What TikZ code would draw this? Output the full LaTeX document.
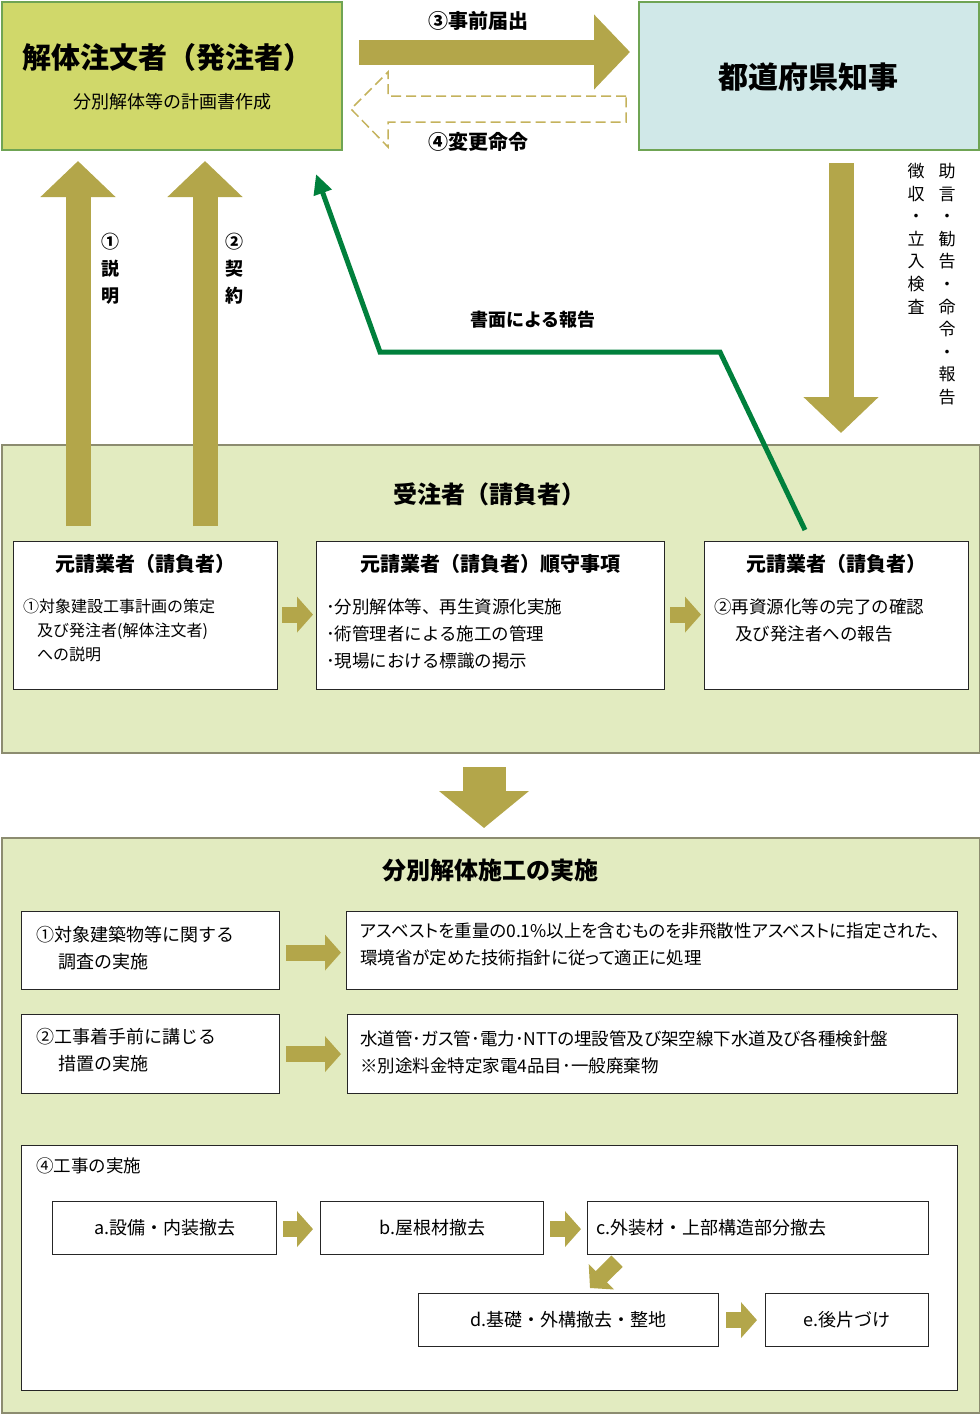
\documentclass[tikz,border=0pt]{standalone}
\usepackage{fontspec}
\setmainfont{Noto Sans CJK JP}
\newfontfamily\proptext{Noto Sans CJK JP}[RawFeature=+palt]
\usetikzlibrary{arrows.meta,positioning,calc}

\definecolor{olivearrow}{HTML}{B3A64A}
\definecolor{dashkhaki}{HTML}{C4B25C}
\definecolor{ordererfill}{HTML}{D0D86A}
\definecolor{govfill}{HTML}{D0E8E8}
\definecolor{boxgreen}{HTML}{6FA454}
\definecolor{panelfill}{HTML}{E2EBC0}
\definecolor{panelline}{HTML}{8C8C70}
\definecolor{reportgreen}{HTML}{00803C}

\begin{document}
\begin{tikzpicture}[x=1pt, y=-1pt,
	topbox/.style={draw=boxgreen, line width=2pt, minimum width=340pt, minimum height=148pt, anchor=north west, inner sep=0pt},
	panel/.style={draw=panelline, line width=2pt, fill=panelfill, anchor=north west, inner sep=0pt},
	box/.style={draw=black!85, line width=1.2pt, fill=white, anchor=north west, inner sep=0pt, font=\fontsize{18}{22}\selectfont},
	bigtitle/.style={inner sep=0pt, font=\bfseries\fontsize{30}{32}\selectfont},
	head/.style={inner sep=0pt, font=\bfseries\fontsize{20}{22}\selectfont},
	lbl/.style={inner sep=0pt, font=\bfseries\fontsize{18}{27}\selectfont, align=center},
	txt/.style={inner sep=0pt, font=\fontsize{17.5}{27}\selectfont, align=left},
	proptxt/.style={txt, font=\proptext\fontsize{17.5}{27}\selectfont},
	bigarrow/.style={color=olivearrow, line width=25pt, -{Triangle[length=36pt, width=73pt]}},
	smallarrow/.style={color=olivearrow, line width=16pt, -{Triangle[length=16pt, width=35pt]}},
	report/.style={color=reportgreen, line width=5pt, -{Triangle[length=20pt, width=18pt]}},
	orderarrow/.style={draw=dashkhaki, line width=1.5pt, dash pattern=on 10pt off 5pt}]

	\useasboundingbox (0,0) rectangle (980,1414);

	% Panels {contractor, works}
	\node [panel, minimum width=978pt, minimum height=308pt]	(contractor)	at (1,444)	{};
	\node [panel, minimum width=978pt, minimum height=575pt]	(works)			at (1,837)	{};

	% Top boxes {orderer, governor}
	\node [topbox, fill=ordererfill]	(orderer)	at (1,1)	{};
	\node [topbox, fill=govfill]		(governor)	at (638,1)	{};
	\node [bigtitle, font=\bfseries\fontsize{29}{32}\selectfont]	(ordererT)	at (168,57)		{解体注文者（発注者）};
	\node [txt, font=\fontsize{18}{22}\selectfont]	(ordererS)	at (172,102)	{分別解体等の計画書作成};
	\node [bigtitle]	(governorT)	at (808,77)	{都道府県知事};

	% Boxes inside the contractor panel {c1, c2, c3}
	\node [box, minimum width=264pt, minimum height=148pt]	(c1)	at (13,541)		{};
	\node [box, minimum width=348pt, minimum height=148pt]	(c2)	at (316,541)	{};
	\node [box, minimum width=264pt, minimum height=148pt]	(c3)	at (704,541)	{};
	\node [head, font=\bfseries\fontsize{24}{26}\selectfont]	(contractorT)	at (489,494)	{受注者（請負者）};
	\node [head]	(c1T)	at (145,564)	{元請業者（請負者）};
	\node [head]	(c2T)	at (490,564)	{元請業者（請負者）順守事項};
	\node [head]	(c3T)	at (836,564)	{元請業者（請負者）};
	\node [txt, anchor=west, font=\fontsize{16}{24}\selectfont]	(c1L)	at (23,630)
	{①対象建設工事計画の策定\\\hspace*{14pt}及び発注者(解体注文者)\\\hspace*{14pt}への説明};
	\node [txt, anchor=west]	(c2L)	at (326,634)
	{･分別解体等、再生資源化実施\\･術管理者による施工の管理\\･現場における標識の掲示};
	\node [txt, anchor=west]	(c3L)	at (714,620.5)
	{②再資源化等の完了の確認\\\hspace*{21pt}及び発注者への報告};

	% Boxes inside the works panel {s1, s1r, s2, s2r, work, wa ... we}
	\node [box, minimum width=258pt, minimum height=78pt]	(s1)	at (21,911)		{};
	\node [box, minimum width=611pt, minimum height=78pt]	(s1r)	at (346,911)	{};
	\node [box, minimum width=258pt, minimum height=79pt]	(s2)	at (21,1014)	{};
	\node [box, minimum width=610pt, minimum height=79pt]	(s2r)	at (347,1014)	{};
	\node [box, minimum width=936pt, minimum height=245pt]	(work)	at (21,1145)	{};
	\node [head, font=\bfseries\fontsize{24}{26}\selectfont]	(worksT)	at (490,870)	{分別解体施工の実施};
	\node [txt, anchor=west, font=\fontsize{18}{27}\selectfont]	(s1L)	at (36,948.5)	{①対象建築物等に関する\\\hspace*{22pt}調査の実施};
	\node [proptxt, anchor=west]	(s1rL)	at (360,944.5)
	{アスベストを重量の0.1\%以上を含むものを非飛散性アスベストに指定された、\\環境省が定めた技術指針に従って適正に処理};
	\node [txt, anchor=west, font=\fontsize{18}{27}\selectfont]	(s2L)	at (36,1050.5)	{②工事着手前に講じる\\\hspace*{22pt}措置の実施};
	\node [proptxt, anchor=west]	(s2rL)	at (360,1052.5)
	{水道管･ガス管･電力･NTTの埋設管及び架空線下水道及び各種検針盤\\※別途料金特定家電4品目･一般廃棄物};
	\node [txt, anchor=west]	(workL)	at (36,1166)	{④工事の実施};
	\node [box, minimum width=224pt, minimum height=53pt]	(wa)	at (52,1201)	{a.設備・内装撤去};
	\node [box, minimum width=223pt, minimum height=53pt]	(wb)	at (320,1201)	{b.屋根材撤去};
	\node [box, minimum height=53pt, text width=323pt, inner xsep=9pt, align=left]	(wc)	at (587,1201)	{c.外装材・上部構造部分撤去};
	\node [box, minimum width=300pt, minimum height=53pt]	(wd)	at (418,1293)	{d.基礎・外構撤去・整地};
	\node [box, minimum width=163pt, minimum height=53pt]	(we)	at (765,1293)	{e.後片づけ};

	% Labels of the arrows
	\node [lbl, font=\bfseries\fontsize{20}{22}\selectfont]	(notifyL)	at (478,21)		{③事前届出};
	\node [lbl, font=\bfseries\fontsize{20}{22}\selectfont]	(changeL)	at (478,142)	{④変更命令};
	\node [lbl]	(explainL)	at (110,269)	{①\\説\\明};
	\node [lbl]	(contractL)	at (234,269)	{②\\契\\約};
	\node [lbl]	(reportL)	at (533,320)	{書面による報告};
	\node [txt, anchor=north, align=center, font=\fontsize{17}{22.6}\selectfont]	(adviceL)	at (947,163)
	{助\\言\\・\\勧\\告\\・\\命\\令\\・\\報\\告};
	\node [txt, anchor=north, align=center, font=\fontsize{17}{22.6}\selectfont]	(inspectL)	at (916,163)
	{徴\\収\\・\\立\\入\\検\\査};

	% Paths
	\path [bigarrow]
	($(orderer.east)+(16,-24)$)		edge	($(governor.west)+(-8,-24)$)
	($(c1.north west)+(65,-15)$)	edge	($(orderer.south west)+(77,10)$)
	($(c1.north west)+(192,-15)$)	edge	($(orderer.south west)+(204,10)$)
	($(governor.south west)+(203,12)$)	edge	($(c3.north west)+(137,-108)$);

	% The outlined arrow of the change order
	\draw [orderarrow] ($(governor.west)+(-12,20)$) -- ++(-238,0) -- ++(0,-24) -- ++(-37,37)
	-- ++(37,38) -- ++(0,-25) -- ++(238,0) -- cycle;

	% Report back to the orderer
	\draw [report] ($(c3.north west)+(101,-11)$) -- (720,352) -- (380,352) -- ($(orderer.south east)+(-27,23)$);

	% From one panel to the next
	\path [bigarrow, line width=43pt, -{Triangle[length=37pt, width=88pt]}]
	($(contractor.south)+(-7,13)$)	edge	($(works.north)+(-7,-9)$);

	% Small arrows between the boxes
	\path [smallarrow]
	($(c1.east)+(4,-1)$)	edge	($(c2.west)+(-3,-1)$)
	($(c2.east)+(5,-1)$)	edge	($(c3.west)+(-3,-1)$)
	($(s1.east)+(6,2)$)		edge	($(s1r.west)+(-5,2)$)
	($(s2.east)+(6,0)$)		edge	($(s2r.west)+(-6,0)$)
	($(wa.east)+(6,1)$)		edge	($(wb.west)+(-7,1)$)
	($(wb.east)+(6,1)$)		edge	($(wc.west)+(-6,1)$)
	($(wc.south west)+(30,6)$)	edge	($(wd.north west)+(172,-5)$)
	($(wd.east)+(7,0)$)		edge	($(we.west)+(-8,0)$);

\end{tikzpicture}
\end{document}
